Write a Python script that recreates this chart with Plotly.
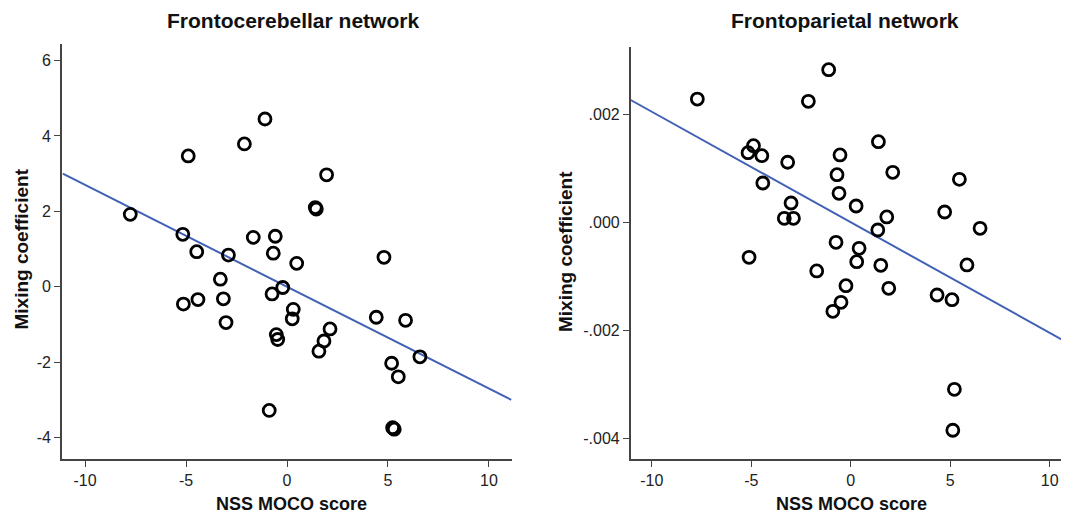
import plotly.graph_objects as go

# ---- data ----
fc_x = [-7.76, -4.89, -2.11, -1.09, 1.96, 1.40, 1.45, -5.16, -4.47, -2.90, -1.67, -0.58, -0.68,
        0.48, 4.80, -3.30, -0.21, -0.74, -5.13, -4.41, -3.15, -3.02, 0.31, 0.26, -0.53, -0.46,
        2.13, 1.83, 1.58, 4.42, 5.87, 5.18, 5.51, 6.58, -0.88, 5.23, 5.31]
fc_y = [1.92, 3.47, 3.79, 4.45, 2.97, 2.10, 2.06, 1.39, 0.93, 0.84, 1.31, 1.34, 0.89,
        0.62, 0.78, 0.20, -0.02, -0.19, -0.46, -0.34, -0.32, -0.95, -0.60, -0.85, -1.27, -1.40,
        -1.12, -1.44, -1.71, -0.81, -0.89, -2.03, -2.39, -1.86, -3.28, -3.74, -3.78]
fc_fit_x = [-11.1, 11.1]
fc_fit_y = [3.0, -3.0]

fp_x = [-7.71, -1.11, -2.13, -4.89, -5.16, -4.47, -3.17, -4.42, 1.39, -0.54, 2.11, -0.69,
        -0.59, -3.00, -3.34, -2.88, 0.27, 1.81, 1.36, 4.72, 5.46, 6.50, -0.74, -5.11, 0.42,
        0.30, -1.71, 1.51, 5.84, -0.24, 1.91, -0.49, -0.90, 4.34, 5.09, 5.21, 5.13]
fp_y = [0.00229, 0.002833, 0.002248, 0.001426, 0.001296, 0.001241, 0.001119, 0.000735,
        0.0015, 0.001254, 0.000933, 0.000889, 0.000544, 0.000365, 0.000081, 0.000081,
        0.000309, 0.000106, -0.000135, 0.000198, 0.000803, -0.000104, -0.000363, -0.000641,
        -0.000474, -0.000722, -0.000894, -0.000789, -0.000783, -0.001167, -0.001215,
        -0.001474, -0.001641, -0.001339, -0.001426, -0.003085, -0.003844]
fp_fit_x = [-11.06, 10.97]
fp_fit_y = [0.002272, -0.002238]

x_ticks = [-10, -5, 0, 5, 10]
x_labels = ["-10", "-5", "0", "5", "10"]
fc_y_ticks = [-4, -2, 0, 2, 4, 6]
fc_y_labels = ["-4", "-2", "0", "2", "4", "6"]
fp_y_ticks = [-0.004, -0.002, 0.0, 0.002]
fp_y_labels = ["-.004", "-.002", ".000", ".002"]

titles = ["Frontocerebellar network", "Frontoparietal network"]
x_title = "NSS MOCO score"
y_title = "Mixing coefficient"

FONT = "Liberation Sans, Arial, sans-serif"
OFF = 8                      # page body margin of the browser
W, H = 1069 - OFF, 516 - OFF
LINE_BLUE = "#4161B5"
AXC = "#444444"

fig = go.Figure()

marker = dict(symbol="circle-open", size=12, color="black", line=dict(width=2.8, color="black"))

fig.add_trace(go.Scatter(x=fc_fit_x, y=fc_fit_y, mode="lines",
                         line=dict(color=LINE_BLUE, width=2), xaxis="x", yaxis="y",
                         showlegend=False, hoverinfo="skip"))
fig.add_trace(go.Scatter(x=fc_x, y=fc_y, mode="markers", marker=marker,
                         xaxis="x", yaxis="y", showlegend=False))
fig.add_trace(go.Scatter(x=fp_fit_x, y=fp_fit_y, mode="lines",
                         line=dict(color=LINE_BLUE, width=2), xaxis="x2", yaxis="y2",
                         showlegend=False, hoverinfo="skip"))
fig.add_trace(go.Scatter(x=fp_x, y=fp_y, mode="markers", marker=marker,
                         xaxis="x2", yaxis="y2", showlegend=False))

# helpers: reference pixel positions -> paper coordinates
def fx(px):
    return (px - OFF) / W

def fy(py):
    return 1 - (py - OFF) / H

axis_common = dict(showgrid=False, zeroline=False, showline=True, linecolor=AXC, linewidth=1.6,
                   ticks="outside", ticklen=6, tickwidth=1.4, tickcolor=AXC,
                   tickfont=dict(family=FONT, size=16, color="#222222"))

fig.update_layout(
    width=W, height=H,
    margin=dict(l=0, r=0, t=0, b=0),
    paper_bgcolor="white", plot_bgcolor="white",
    xaxis=dict(domain=[fx(62), fx(512)], range=[-11.14, 11.14], tickvals=x_ticks,
               ticktext=x_labels, anchor="y", **axis_common),
    yaxis=dict(domain=[fy(459), fy(44)], range=[-4.57, 6.44], tickvals=fc_y_ticks,
               ticktext=fc_y_labels, anchor="x", **axis_common),
    xaxis2=dict(domain=[fx(630.7), 1.0], range=[-11.06, 10.97], tickvals=x_ticks,
                ticktext=x_labels, anchor="y2", **axis_common),
    yaxis2=dict(domain=[fy(459), fy(46.7)], range=[-0.004376, 0.003259], tickvals=fp_y_ticks,
                ticktext=fp_y_labels, anchor="x2", **axis_common),
)

ann = []
for xc, t in [(293, titles[0]), (845, titles[1])]:
    ann.append(dict(text="<b>%s</b>" % t, x=fx(xc), y=1.0, xref="paper", yref="paper",
                    showarrow=False, xanchor="center", yanchor="top", borderpad=0,
                    font=dict(family=FONT, size=21, color="#111111")))
for xc in [291, 851]:
    ann.append(dict(text="<b>%s</b>" % x_title, x=fx(xc), y=fy(504), xref="paper", yref="paper",
                    showarrow=False, xanchor="center", yanchor="middle",
                    font=dict(family=FONT, size=18, color="#111111")))
for xc, yc in [(20.5, 249), (565, 252)]:
    ann.append(dict(text="<b>%s</b>" % y_title, x=fx(xc), y=fy(yc), xref="paper", yref="paper",
                    showarrow=False, xanchor="center", yanchor="middle", textangle=-90,
                    font=dict(family=FONT, size=19, color="#111111")))
fig.update_layout(annotations=ann)

fig.write_html("out.html")
